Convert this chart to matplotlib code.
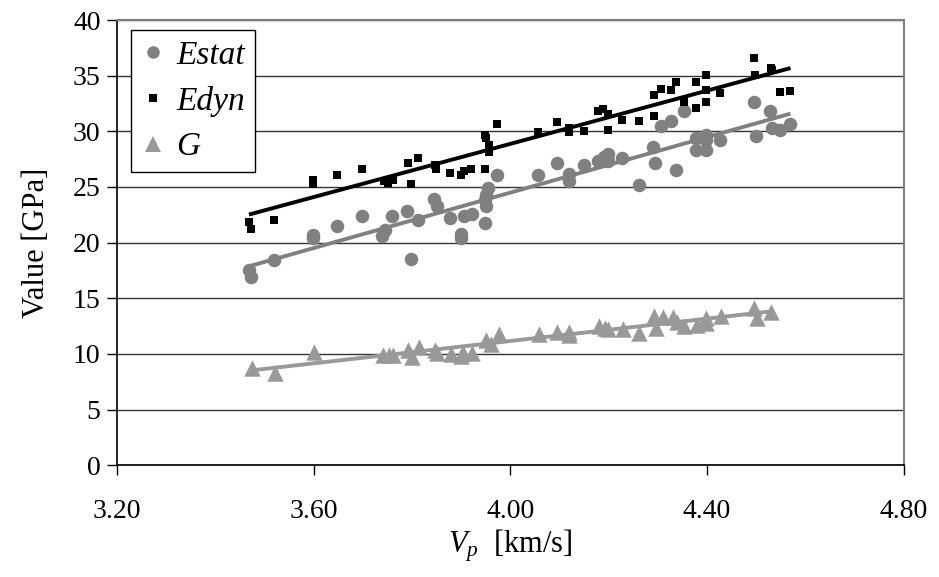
import numpy as np
import matplotlib
matplotlib.use("Agg")
import matplotlib.pyplot as plt
from matplotlib.lines import Line2D

plt.rcParams['font.family'] = ['Liberation Serif', 'DejaVu Serif']
plt.rcParams['mathtext.fontset'] = 'custom'
plt.rcParams['mathtext.rm'] = 'Liberation Serif'
plt.rcParams['mathtext.it'] = 'Liberation Serif:italic'

# ---- data ----
edyn_x = [3.468, 3.473, 3.519, 3.598, 3.598, 3.648, 3.699, 3.743, 3.750, 3.761,
          3.791, 3.798, 3.811, 3.847, 3.849, 3.877, 3.899, 3.906, 3.920, 3.948,
          3.948, 3.951, 3.957, 3.957, 3.973, 4.057, 4.094, 4.119, 4.119, 4.149,
          4.179, 4.189, 4.198, 4.199, 4.227, 4.261, 4.293, 4.293, 4.307, 4.327,
          4.336, 4.353, 4.378, 4.378, 4.398, 4.398, 4.398, 4.427, 4.495, 4.498,
          4.530, 4.533, 4.549, 4.570]
edyn_y = [21.9, 21.2, 22.0, 25.6, 25.3, 26.1, 26.6, 25.5, 25.4, 25.6,
          27.2, 25.3, 27.6, 27.0, 26.6, 26.3, 26.1, 26.4, 26.6, 26.6,
          29.7, 29.4, 28.8, 28.1, 30.7, 29.9, 30.8, 30.3, 29.9, 30.0,
          31.8, 32.0, 31.6, 30.1, 31.0, 30.9, 33.3, 31.4, 33.8, 33.7,
          34.4, 32.6, 34.4, 32.1, 35.1, 33.7, 32.6, 33.4, 36.6, 35.1,
          35.7, 35.5, 33.5, 33.6]

estat_x = [3.468, 3.472, 3.519, 3.598, 3.598, 3.648, 3.699, 3.738, 3.745, 3.760,
           3.790, 3.798, 3.811, 3.845, 3.850, 3.877, 3.899, 3.899, 3.906, 3.921,
           3.948, 3.948, 3.951, 3.955, 3.951, 3.973, 4.057, 4.094, 4.119, 4.119,
           4.149, 4.179, 4.191, 4.199, 4.198, 4.227, 4.261, 4.291, 4.294, 4.307,
           4.327, 4.336, 4.353, 4.378, 4.378, 4.398, 4.398, 4.398, 4.427, 4.495,
           4.499, 4.528, 4.532, 4.549, 4.570]
estat_y = [17.5, 16.9, 18.4, 20.7, 20.4, 21.5, 22.4, 20.6, 21.1, 22.4,
           22.8, 18.5, 22.0, 23.9, 23.3, 22.2, 20.8, 20.4, 22.4, 22.6,
           21.8, 23.8, 24.3, 24.9, 23.3, 26.1, 26.1, 27.2, 26.2, 25.5,
           27.0, 27.3, 27.7, 28.0, 27.3, 27.6, 25.2, 28.6, 27.2, 30.5,
           30.9, 26.5, 31.8, 29.4, 28.3, 29.7, 29.2, 28.3, 29.2, 32.6,
           29.6, 31.8, 30.3, 30.1, 30.7]

g_x = [3.474, 3.521, 3.601, 3.741, 3.752, 3.762, 3.792, 3.800, 3.813, 3.847,
       3.850, 3.879, 3.900, 3.904, 3.921, 3.950, 3.960, 3.976, 4.059, 4.094,
       4.120, 4.120, 4.181, 4.193, 4.199, 4.229, 4.262, 4.292, 4.296, 4.311,
       4.330, 4.339, 4.354, 4.379, 4.399, 4.399, 4.429, 4.496, 4.501, 4.530]
g_y = [8.7, 8.3, 10.2, 9.9, 9.9, 9.9, 10.4, 9.7, 10.6, 10.4,
       10.1, 10.0, 9.8, 10.1, 10.1, 11.3, 10.9, 11.8, 11.8, 12.0,
       12.0, 11.7, 12.5, 12.3, 12.2, 12.2, 11.9, 13.4, 12.3, 13.3,
       13.3, 12.9, 12.5, 12.6, 13.2, 12.8, 13.4, 14.1, 13.2, 13.8]

x_ticks = [3.20, 3.60, 4.00, 4.40, 4.80]
y_ticks = [0, 5, 10, 15, 20, 25, 30, 35, 40]

c_estat = '#808080'
c_edyn = '#000000'
c_g = '#999999'

fig = plt.figure(figsize=(9.39, 5.77), dpi=100)
ax = fig.add_axes([0.1249, 0.1936, 0.8373, 0.7717])

def trend(xs, ys, color):
    xs = np.asarray(xs); ys = np.asarray(ys)
    k, b = np.polyfit(xs, ys, 1)
    xx = np.array([xs.min(), xs.max()])
    ax.plot(xx, k * xx + b, color=color, lw=2.8, zorder=4, solid_capstyle='butt')

ax.scatter(estat_x, estat_y, s=95, marker='o', color=c_estat, lw=0, zorder=3)
ax.scatter(edyn_x, edyn_y, s=40, marker='s', color=c_edyn, lw=0, zorder=3)
ax.scatter(g_x, g_y, s=140, marker='^', color=c_g, lw=0, zorder=3)
trend(estat_x, estat_y, c_estat)
trend(edyn_x, edyn_y, c_edyn)
trend(g_x, g_y, c_g)

ax.set_xlim(3.20, 4.80)
ax.set_ylim(0, 40)
ax.set_xticks(x_ticks)
ax.set_xticklabels([f"{v:.2f}" for v in x_ticks])
ax.set_yticks(y_ticks)
ax.set_yticklabels([str(v) for v in y_ticks])
ax.tick_params(axis='both', direction='out', length=7, width=1, labelsize=20, color='black')
ax.tick_params(axis='x', pad=17)
ax.tick_params(axis='y', pad=5)
ax.yaxis.grid(True, color='#333333', lw=1)
ax.set_axisbelow(True)
for s in ['left', 'bottom']:
    ax.spines[s].set_color('black')
    ax.spines[s].set_linewidth(1.2)
for s in ['top', 'right']:
    ax.spines[s].set_color('#808080')
    ax.spines[s].set_linewidth(1.5)

ax.set_xlabel(r'$V_{p}$  [km/s]', fontsize=22, labelpad=3)
ax.set_ylabel('Value [GPa]', fontsize=22, labelpad=16)

handles = [Line2D([], [], ls='', marker='o', ms=9, color=c_estat, mew=0),
           Line2D([], [], ls='', marker='s', ms=6, color=c_edyn, mew=0),
           Line2D([], [], ls='', marker='^', ms=11, color=c_g, mew=0)]
leg = ax.legend(handles, ['Estat', 'Edyn', 'G'], loc='upper left',
                bbox_to_anchor=(0.018, 0.977), prop={'style': 'italic', 'size': 24},
                frameon=True, fancybox=False, edgecolor='black', framealpha=1,
                handlelength=0.7, handletextpad=0.35, labelspacing=0.45,
                borderpad=0.3, borderaxespad=0)
leg.get_frame().set_linewidth(1.0)

fig.savefig('out.png', dpi=100)
